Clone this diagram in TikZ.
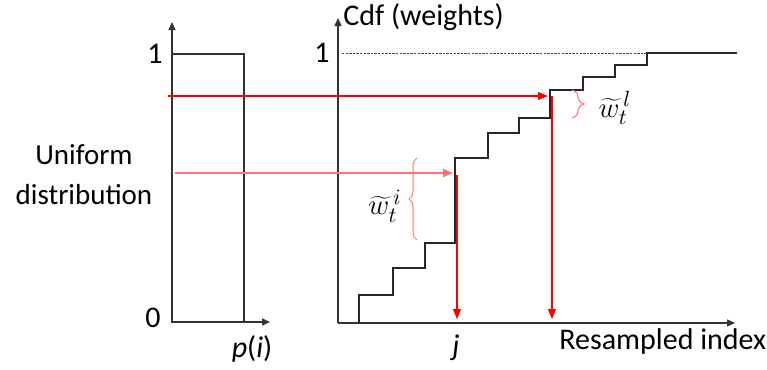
\documentclass[tikz,border=0pt]{standalone}
\usepackage{fontspec}
\setmainfont{Carlito}
\usetikzlibrary{positioning,arrows.meta,decorations.pathreplacing}

\tikzset{
  axis/.style={black!80, line width=0.7pt, -{Triangle[length=4pt,width=3.5pt]}},
  pick/.style={red, line width=0.6pt, -{Triangle[length=5pt,width=4pt]}},
  pickpale/.style={red!55, line width=1pt, -{Triangle[length=5pt,width=4pt]}},
  wbrace/.style={red!55, line width=0.5pt, decorate, decoration={brace, amplitude=4pt}},
  lbl/.style={font=\fontsize{15}{17}\selectfont, inner sep=1pt}
}

\begin{document}
\begin{tikzpicture}[>=stealth, x=0.5pt, y=-0.5pt]
    \useasboundingbox (0,0) rectangle (767,370);

    % uniform distribution
    \coordinate (lo) at (172,322);
    \draw[axis] (lo) -- (172,22);
    \draw[axis] (lo) -- (270,322);
    \draw[black!80, line width=0.7pt] (172,54) rectangle (244,322);
    \node[lbl] (one) at (155,54) {1};
    \node[lbl] (zero) at (153,318) {0};
    \node[lbl] (pi) at (252,349) {\textit{p}(\textit{i})};
    \node[lbl, align=center, font=\fontsize{14.5}{20}\selectfont] (unif) at (84,175) {Uniform\\distribution};

    % cdf of the weights
    \coordinate (ro) at (338,323);
    \draw[axis] (ro) -- (338,18);
    \draw[axis] (ro) -- (735,323);
    \node[lbl, anchor=west] (cdf) at (341,17) {Cdf (weights)};
    \node[lbl] (cone) at (322,53) {1};
    \node[lbl, anchor=west] (rsi) at (557,341) {Resampled index};
    \node[lbl] (j) at (456,348) {\textit{j}};
    \draw[black!70, line width=0.4pt, dash pattern=on 1.2pt off 0.6pt] (342,53) -- (647,53);
    \draw[black!85, line width=0.7pt] (359,323) |- (393,295) |- (425,268) |- (455,243)
        |- (488,158) |- (519,133) |- (550,118) |- (583,90) |- (615,77) |- (647,65) |- (737,53);

    % picking the samples
    \coordinate (uhi) at (168,96);
    \coordinate (uhiend) at (548,96);
    \coordinate (ulo) at (175,173);
    \coordinate (uloend) at (453,173);
    \coordinate (jtop) at (457,175);
    \coordinate (jbot) at (457,319);
    \coordinate (ltop) at (552,96);
    \coordinate (lbot) at (552,319);
    \draw[pick] (uhi) -- (uhiend);
    \draw[pickpale] (ulo) -- (uloend);
    \draw[pick] (jtop) -- (jbot);
    \draw[pick] (ltop) -- (lbot);

    \draw[wbrace] (417,240) -- (417,158);
    \draw[wbrace, decoration={amplitude=6pt}] (572,90) -- (572,118);
    \node[lbl] (wi) at (385,206) {$\widetilde{w}_t^{\,i}$};
    \node[lbl] (wl) at (615,108) {$\widetilde{w}_t^{\,l}$};
\end{tikzpicture}
\end{document}
